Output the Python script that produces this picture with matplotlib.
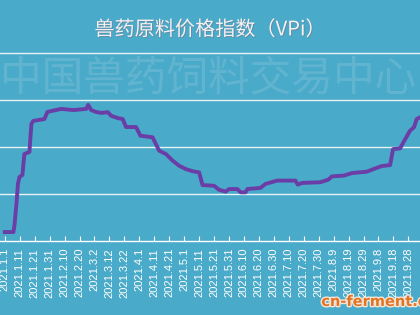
import matplotlib
matplotlib.use('Agg')
import matplotlib.pyplot as plt
import matplotlib.patheffects as pe

plt.rcParams['font.family'] = ['Noto Sans CJK SC', 'DejaVu Sans']

# VPi index (x = days since 2021.1.1)
days = [0, 5.8, 6.5, 7.8, 8.8, 9.8, 11.8, 13.1, 16.5, 17.8, 19.1, 26.5, 28.5, 31.1,
        37.8, 45.8, 54.5, 55.8, 57.8, 61.1, 64.5, 69, 71.1, 75.6, 78.9, 81.1, 87.8,
        90.7, 95.6, 98.9, 103.3, 107.8, 112.3, 116.7, 121.1, 125.6, 130, 132.3, 140,
        143.3, 147.8, 150, 155.6, 157.8, 161.1, 162.3, 171.1, 174.5, 182.3, 194.5,
        196, 198.9, 211.1, 216.5, 218.9, 226.7, 232.3, 242.3, 246.7, 252.3, 257.8,
        259.8, 264.5, 266.7, 271.1, 273.8, 275.6, 277.8]
vpi = [63.8, 63.8, 66.8, 75.7, 84.3, 87.2, 88.1, 97.0, 97.9, 109.8, 111.1, 111.9, 114.9,
       115.3, 116.2, 115.7, 116.2, 117.9, 115.7, 114.9, 114.5, 114.8, 113.3, 112.3,
       111.9, 108.5, 108.5, 104.8, 104.4, 104.1, 98.4, 97.0, 94.2, 92.0, 90.6, 89.7,
       89.2, 83.8, 83.5, 81.8, 81.0, 82.1, 82.1, 80.7, 80.7, 82.1, 82.6, 84.3, 85.7,
       85.7, 84.0, 84.7, 85.0, 86.1, 87.5, 87.8, 88.9, 89.5, 90.6, 91.9, 92.3, 99.1,
       99.4, 102.0, 106.9, 108.4, 111.9, 112.6]

tick_days = list(range(0, 271, 10))
tick_labels = ['2021.1.1', '2021.1.11', '2021.1.21', '2021.1.31', '2021.2.10',
               '2021.2.20', '2021.3.2', '2021.3.12', '2021.3.22', '2021.4.1',
               '2021.4.11', '2021.4.21', '2021.5.1', '2021.5.11', '2021.5.21',
               '2021.5.31', '2021.6.10', '2021.6.20', '2021.6.30', '2021.7.10',
               '2021.7.20', '2021.7.30', '2021.8.9', '2021.8.19', '2021.8.29',
               '2021.9.8', '2021.9.18', '2021.9.28']

bg = '#4aaac9'
fig = plt.figure(figsize=(4.2, 3.15), dpi=100, facecolor=bg)

ax = fig.add_axes([0, 0.235, 1, 0.6117])
ax.set_facecolor(bg)
ax.plot(days, vpi, color='#6a3ea6', lw=2.8, solid_joinstyle='round', zorder=3)

ax.set_xlim(-3.2, 277.8)
ax.set_ylim(60, 142)
ax.set_yticks([80, 100, 120, 140])
ax.yaxis.grid(True, color='#e8f4f8', lw=1.0)
ax.tick_params(axis='y', left=False, labelleft=False)
ax.set_xticks(tick_days)
ax.set_xticklabels(tick_labels, rotation=90, fontsize=8, color='white',
                   family=['Liberation Sans', 'DejaVu Sans'])
ax.tick_params(axis='x', direction='in', length=3.5, color='white', pad=5)
for side in ['top', 'left', 'right']:
    ax.spines[side].set_visible(False)
ax.spines['bottom'].set_color('white')
ax.spines['bottom'].set_linewidth(1.0)

fig.text(0.5, 0.905, '兽药原料价格指数（VPi）', ha='center', va='center',
         fontsize=14.5, color='#f6f0f2',
         path_effects=[pe.withSimplePatchShadow(offset=(0.6, -0.6), shadow_rgbFace='#7a6a78', alpha=0.5)])
fig.text(0.0, 0.75, '中国兽药饲料交易中心', ha='left', va='center',
         fontsize=30, color='white', alpha=0.13)
fig.text(0.765, 0.043, 'cn-ferment.com', ha='left', va='center', fontsize=10.5,
         fontweight='bold', color='#e27424', family=['DejaVu Sans'],
         path_effects=[pe.withStroke(linewidth=2, foreground='#f3e6d8')])

fig.savefig('out.png', dpi=100, facecolor=bg)
